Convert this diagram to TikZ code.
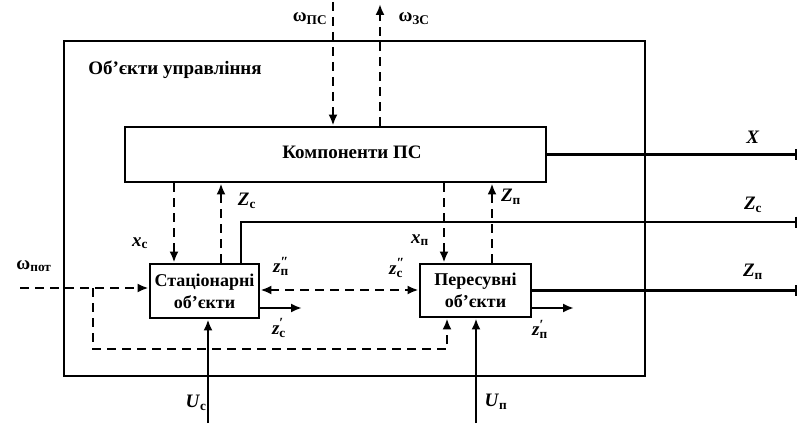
\documentclass[tikz,border=0pt]{standalone}
\usepackage{fontspec}
\setmainfont{Liberation Serif}
\usetikzlibrary{arrows.meta}
\newcommand{\vs}[2]{\textbf{\textit{#1}}\textsubscript{\textbf{#2}}}
\newcommand{\vps}[3]{\textbf{\textit{#1}}\rlap{\raisebox{0.75ex}{\fontsize{14}{14}\selectfont\textbf{#2}}}\textsubscript{\textbf{#3}}}
\newcommand{\ws}[1]{\textbf{ω}\textsubscript{\textbf{#1}}}
\begin{document}
\begin{tikzpicture}[x=1pt,y=-1pt, line width=2.9pt,
  font=\fontsize{19}{21}\selectfont\bfseries,
  box/.style={draw, inner sep=0pt, align=center},
  dsh/.style={dash pattern=on 9pt off 6pt},
  tip/.style={-{Latex[length=11pt,width=9pt]}},
  endbar/.style={-{Bar[width=11pt,line width=2.2pt]}},
  lbl/.style={inner sep=0pt}]
\useasboundingbox (0,0) rectangle (799,425);

\node[box, minimum width=581pt, minimum height=335pt] (outer) at (354.5,208.5) {};
\node[box, minimum width=421pt, minimum height=55pt] (comp) at (335.5,154.5) {};
\node[lbl] (comptxt) at (352,152) {Компоненти ПС};
\node[box, minimum width=109pt, minimum height=54pt, font=\fontsize{18}{22}\selectfont\bfseries] (stat) at (204.5,291) {Стаціонарні\\об’єкти};
\node[box, minimum width=111pt, minimum height=53pt, font=\fontsize{18}{22}\selectfont\bfseries] (mov) at (475.5,290.5) {Пересувні\\об’єкти};
\node[lbl] (title) at (175,70) {Об’єкти управління};

\coordinate (xend) at (797,0);
\coordinate (wps) at (333,2);
\coordinate (wzs) at (380,4);
\coordinate (zcx) at (241,222);
\coordinate (xcx) at (174,0);
\coordinate (zcu) at (221,0);
\coordinate (xpx) at (444,0);
\coordinate (zpu) at (492,0);
\coordinate (wpot) at (20,288);
\coordinate (br) at (93,288);
\coordinate (brb) at (93,349);
\coordinate (brx) at (447,349);
\coordinate (bi) at (0,290);
\coordinate (zcs) at (302,308);
\coordinate (zps) at (574,308);
\coordinate (uc) at (208,423);
\coordinate (up) at (476,423);

\draw[dsh,tip] (wps) -- (wps |- comp.north);
\draw[dsh,tip] (wzs |- comp.north) -- (wzs);
\draw[endbar] (comp.east) -- (comp.east -| xend);
\draw[endbar] (stat.north -| zcx) -- (zcx) -- (zcx -| xend);
\draw[endbar] (mov.east) -- (mov.east -| xend);
\draw[dsh,tip] (comp.south -| xcx) -- (stat.north -| xcx);
\draw[dsh,tip] (stat.north -| zcu) -- (comp.south -| zcu);
\draw[dsh,tip] (comp.south -| xpx) -- (mov.north -| xpx);
\draw[dsh,tip] (mov.north -| zpu) -- (comp.south -| zpu);
\draw[dsh,tip] (wpot) -- (wpot -| stat.west);
\draw[dsh,tip] (br) -- (brb) -- (brx) -- (brx |- mov.south);
\draw[dsh,{Latex[length=11pt,width=9pt]}-{Latex[length=11pt,width=9pt]}] (stat.east |- bi) -- (mov.west |- bi);
\draw[tip] (stat.east |- zcs) -- (zcs);
\draw[tip] (mov.east |- zps) -- (zps);
\draw[tip] (uc) -- (uc |- stat.south);
\draw[tip] (up) -- (up |- mov.south);

\node[lbl] (l1) at (310,19) {\ws{ПС}};
\node[lbl] (l2) at (414,19) {\ws{ЗС}};
\node[lbl] (l3) at (753,137) {\textbf{\textit{X}}};
\node[lbl] (l4) at (753,205) {\vs{Z}{с}};
\node[lbl] (l5) at (753,272) {\vs{Z}{п}};
\node[lbl] (l6) at (140,243) {\vs{x}{с}};
\node[lbl] (l7) at (247,201) {\vs{Z}{с}};
\node[lbl] (l8) at (420,240) {\vs{x}{п}};
\node[lbl] (l9) at (511,197) {\vs{Z}{п}};
\node[lbl] (l10) at (281,266) {\vps{z}{″}{п}};
\node[lbl] (l11) at (396,268) {\vps{z}{″}{с}};
\node[lbl] (l12) at (279,328) {\vps{z}{′}{с}};
\node[lbl] (l13) at (540,329) {\vps{z}{′}{п}};
\node[lbl] (l14) at (196,403) {\vs{U}{с}};
\node[lbl] (l15) at (496,402) {\vs{U}{п}};
\node[lbl] (l16) at (34,266) {\ws{пот}};
\end{tikzpicture}
\end{document}
